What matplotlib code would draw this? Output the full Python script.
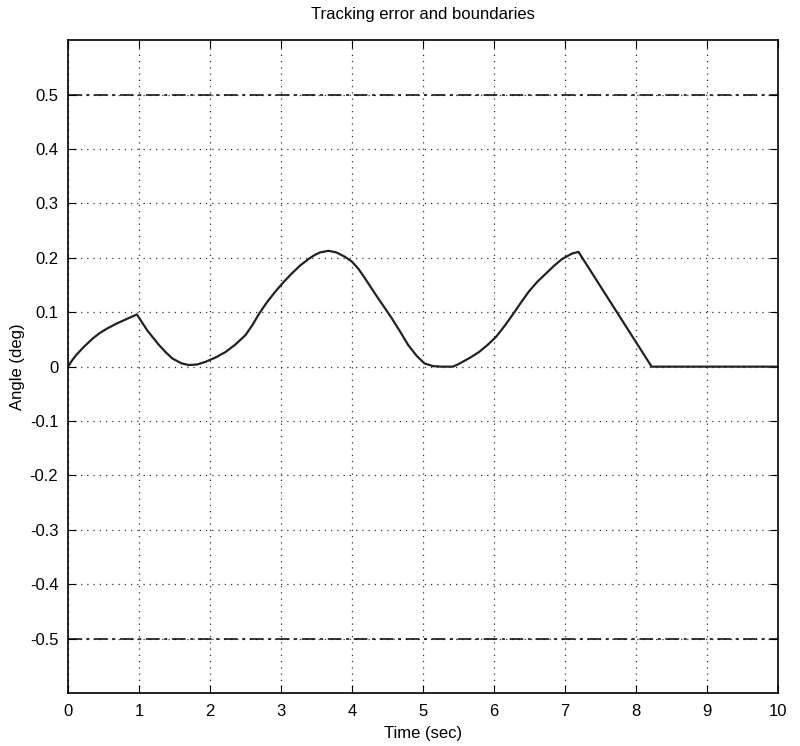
import matplotlib.pyplot as plt
from matplotlib.ticker import FormatStrFormatter

plt.rcParams['font.family'] = ['Liberation Sans', 'DejaVu Sans']

# tracking error (deg)
time = [0.0, 0.06, 0.12, 0.22, 0.35, 0.45, 0.55, 0.68, 0.85, 0.97, 1.0, 1.06, 1.12,
        1.20, 1.28, 1.38, 1.47, 1.60, 1.70, 1.82, 1.94, 2.08, 2.22, 2.36, 2.50, 2.60,
        2.69, 2.80, 2.92, 3.04, 3.15, 3.27, 3.39, 3.47, 3.55, 3.67, 3.78, 3.90, 4.00,
        4.09, 4.20, 4.32, 4.44, 4.56, 4.68, 4.79, 4.91, 5.02, 5.14, 5.26, 5.42, 5.49,
        5.56, 5.67, 5.79, 5.91, 6.03, 6.15, 6.26, 6.37, 6.49, 6.61, 6.73, 6.85, 6.96,
        7.10, 7.19, 8.22, 10.0]
error = [0.0, 0.012, 0.022, 0.036, 0.052, 0.062, 0.070, 0.079, 0.089, 0.096, 0.090,
         0.078, 0.066, 0.053, 0.040, 0.026, 0.015, 0.006, 0.003, 0.004, 0.009, 0.017,
         0.027, 0.041, 0.058, 0.077, 0.097, 0.118, 0.138, 0.156, 0.171, 0.186, 0.198,
         0.205, 0.210, 0.213, 0.210, 0.202, 0.193, 0.180, 0.159, 0.135, 0.112, 0.089,
         0.064, 0.040, 0.020, 0.006, 0.001, 0.0, 0.0, 0.004, 0.009, 0.017, 0.027,
         0.040, 0.055, 0.075, 0.095, 0.116, 0.138, 0.156, 0.171, 0.186, 0.198, 0.208,
         0.211, 0.0, 0.0]
bound_upper = 0.5
bound_lower = -0.5
x_ticks = list(range(0, 11))
y_ticks = [-0.5, -0.4, -0.3, -0.2, -0.1, 0, 0.1, 0.2, 0.3, 0.4, 0.5]

fig = plt.figure(figsize=(8, 7.46), dpi=100)
ax = fig.add_axes([0.085, 0.071, 0.8875, 0.875])

ax.plot(time, error, color='#222222', lw=1.6)
ax.axhline(bound_upper, color='black', lw=1.1, linestyle=(0, (9, 3, 2, 3)))
ax.axhline(bound_lower, color='black', lw=1.1, linestyle=(0, (9, 3, 2, 3)))

ax.set_xlim(0, 10)
ax.set_ylim(-0.6, 0.6)
ax.set_xticks(x_ticks)
ax.set_yticks(y_ticks)
ax.yaxis.set_major_formatter(FormatStrFormatter('%g'))
ax.grid(True, color='#333333', linestyle=(0, (1, 4)), lw=0.9)
ax.tick_params(direction='in', top=True, right=True, length=6, labelsize=12)
ax.tick_params(axis='x', pad=8)
ax.tick_params(axis='y', pad=7)
for s in ax.spines.values():
    s.set_linewidth(1.2)

ax.set_title('Tracking error and boundaries', fontsize=12, pad=15)
ax.set_xlabel('Time (sec)', fontsize=12, labelpad=5)
ax.set_ylabel('Angle (deg)', fontsize=12, labelpad=3)

fig.savefig('out.png', dpi=100)
